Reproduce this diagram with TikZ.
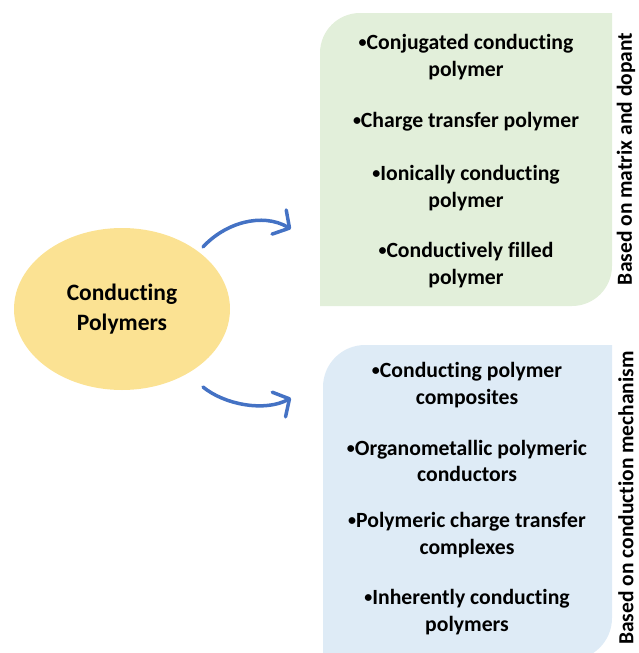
\documentclass[tikz,border=0pt]{standalone}
\usepackage{fontspec}
\setmainfont{Carlito}[Ligatures=NoCommon]
\usetikzlibrary{arrows.meta,shapes.geometric}
\definecolor{ellfill}{HTML}{FBE293}
\definecolor{greenfill}{HTML}{E2EFDA}
\definecolor{bluefill}{HTML}{DEEBF6}
\definecolor{arrowblue}{HTML}{4472C4}
\newcommand{\blt}{\raisebox{1.8pt}{\fontsize{16}{16}\selectfont •}}
\tikzset{
  item/.style={align=center, font=\fontsize{21.7}{26.5}\selectfont\bfseries, inner sep=0pt},
  side/.style={rotate=90, font=\fontsize{21.5}{26}\selectfont\bfseries, inner sep=0pt},
  conn/.style={draw=arrowblue, line width=3.5pt, line cap=round,
    -{Straight Barb[length=12pt,width=28pt,line cap=round,line join=round]}}
}
\begin{document}
\begin{tikzpicture}[x=1pt,y=1pt]
\useasboundingbox (0,0) rectangle (638,-653);
% boxes
\fill[greenfill] (320,-53) arc[start angle=180,end angle=90,radius=40] -- (612,-13) -- (612,-266) arc[start angle=0,end angle=-90,radius=40] -- (320,-306) -- cycle;
\fill[bluefill] (323,-387) arc[start angle=180,end angle=90,radius=42] -- (612,-345) -- (612,-618) arc[start angle=0,end angle=-90,radius=42] -- (323,-660) -- cycle;
% ellipse
\node[ellipse, fill=ellfill, minimum width=216pt, minimum height=162pt, align=center,
  font=\fontsize{23.5}{30}\selectfont\bfseries] (cp) at (122,-309) {Conducting\\Polymers};
% items
\node[item] (g1) at (466,-57) {\blt Conjugated conducting\\polymer};
\node[item] (g2) at (466,-122) {\blt Charge transfer polymer};
\node[item] (g3) at (466,-188) {\blt Ionically conducting\\polymer};
\node[item] (g4) at (466,-265) {\blt Conductively filled\\polymer};
\node[item] (b1) at (467,-385) {\blt Conducting polymer\\composites};
\node[item] (b2) at (467,-461) {\blt Organometallic polymeric\\conductors};
\node[item] (b3) at (467,-535) {\blt Polymeric charge transfer\\complexes};
\node[item] (b4) at (467,-612) {\blt Inherently conducting\\polymers};
\node[side] (s1) at (626,-159) {Based on matrix and dopant};
\node[side] (s2) at (626,-498) {Based on conduction mechanism};
% arrows
\coordinate (u1) at (203,-247);
\coordinate (u2) at (291,-229);
\coordinate (l1) at (203,-387);
\coordinate (l2) at (291,-398);
\draw[conn] (u1) .. controls (225,-223) and (262,-212) .. (u2);
\draw[conn] (l1) .. controls (225,-405) and (265,-412) .. (l2);
\end{tikzpicture}
\end{document}
